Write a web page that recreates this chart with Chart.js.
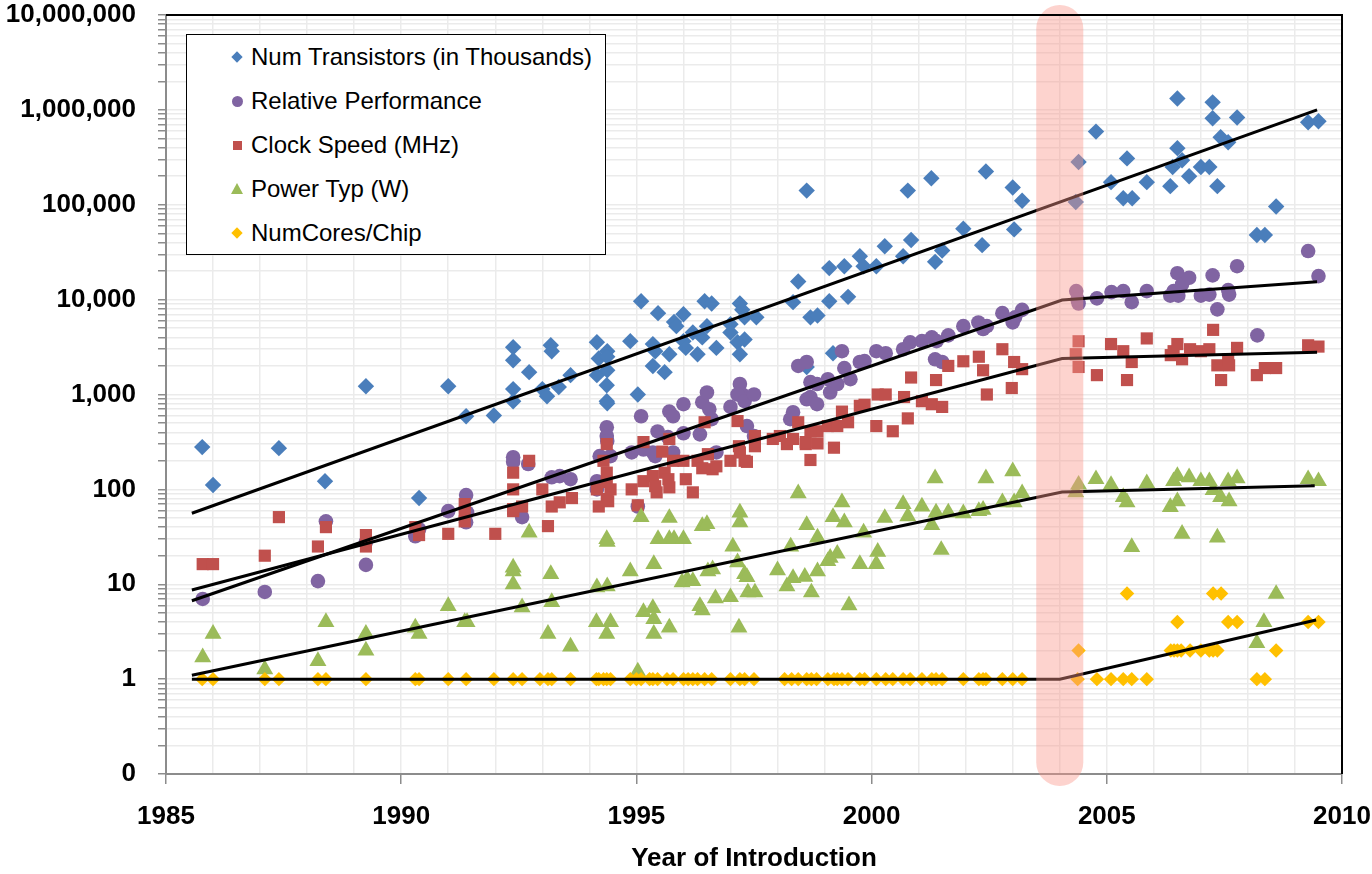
<!DOCTYPE html>
<html>
<head>
<meta charset="utf-8">
<script src="https://cdn.jsdelivr.net/npm/chart.js@4.4.0/dist/chart.umd.min.js"></script>
<style>
html,body{margin:0;padding:0;background:#fff;}
#wrap{position:relative;width:1372px;height:874px;}
canvas{display:block;}
#legend{position:absolute;left:186px;top:34px;width:420px;height:221px;border:1.5px solid #000;background:#fff;box-sizing:border-box;font-family:'Liberation Sans',Arial,sans-serif;font-size:24px;color:#000;}
.item{position:absolute;left:0;height:30px;line-height:30px;white-space:nowrap;}
.mk{position:absolute;top:15px;}
.txt{position:absolute;left:64px;top:0;}
</style>
</head>
<body>
<div id="wrap"><canvas id="c" width="1372" height="874"></canvas><div id="legend"></div></div>
<script>
// ---------------- DATA ----------------
const seriesNames = ['Num Transistors (in Thousands)','Relative Performance','Clock Speed (MHz)','Power Typ (W)','NumCores/Chip'];

const xTickLabels = [1985,1990,1995,2000,2005,2010];
const yTickValues = [0.1,1,10,100,1000,10000,100000,1000000,10000000];
const yTickLabels = ['0','1','10','100','1,000','10,000','100,000','1,000,000','10,000,000'];

const transYears = [1985.77,1986.0,1987.4,1988.38,1989.25,1990.38,1991.0,1991.38,1991.97,1992.38,1992.38,1992.38,1992.38,1992.72,1993.0,1993.1,1993.18,1993.2,1993.35,1993.6,1994.16,1994.16,1994.2,1994.38,1994.38,1994.38,1994.37,1994.37,1994.38,1995.03,1994.87,1995.1,1995.46,1995.35,1995.4,1995.35,1995.6,1995.7,1995.8,1995.85,1996.0,1996.0,1996.05,1996.2,1996.3,1996.4,1996.5,1996.45,1996.6,1996.7,1997.0,1997.0,1997.2,1997.25,1997.3,1997.15,1997.2,1997.3,1997.55,1998.62,1998.33,1998.44,1998.7,1998.85,1999.1,1999.1,1999.42,1999.5,1999.75,1999.83,2000.1,2000.28,2000.67,2000.84,2000.77,2001.27,2001.35,2001.5,2001.95,2002.35,2002.43,2003.0,2003.2,2003.03,2004.4,2004.34,2004.77,2005.09,2005.35,2005.43,2005.54,2005.85,2006.35,2006.4,2006.5,2006.5,2006.6,2006.75,2007.0,2007.18,2007.25,2007.25,2007.35,2007.42,2007.58,2007.77,2008.19,2008.36,2008.6,2009.28,2009.5,1998.62,1999.18];
const transValues = [279,111,272,122,1220,81,1220,590,600,3150,2300,1140,850,1720,1140,960,3300,2860,1200,1600,3550,1600,2400,2860,2500,1800,1250,850,810,1000,3650,9600,7200,3400,2860,2000,1720,2660,5800,5250,7000,3650,3100,4500,2660,4000,5250,9600,9100,3100,5500,4500,9100,7800,3800,3550,2660,6500,6500,141000,9400,15500,6500,6800,21500,9600,22500,10700,28700,22500,22500,36500,28700,42500,141000,190000,25000,33000,56000,37500,224000,152000,110000,55000,282000,107000,590000,173000,117000,308000,117000,173000,157000,250000,395000,1320000,295000,200000,250000,250000,1200000,815000,157000,515000,455000,830000,48000,48000,96000,740000,760000,1950,2720];

const perfYears = [1985.78,1987.1,1988.23,1988.4,1989.25,1989.25,1990.3,1990.38,1991.0,1991.38,1991.38,1991.4,1992.57,1992.38,1992.38,1992.7,1993.2,1993.37,1993.6,1994.16,1994.16,1994.22,1994.37,1994.37,1994.38,1994.45,1995.03,1994.9,1995.1,1995.15,1995.35,1995.4,1995.45,1995.67,1995.7,1995.78,1995.78,1996.0,1996.0,1996.35,1996.4,1996.5,1996.55,1996.6,1996.7,1997.0,1997.2,1997.25,1997.15,1997.3,1997.35,1997.5,1997.5,1998.27,1998.33,1998.44,1998.62,1998.62,1998.7,1998.84,1998.7,1998.84,1999.07,1999.12,1999.27,1999.37,1999.42,1999.55,1999.75,1999.85,2000.1,2000.3,2000.67,2000.82,2001.07,2001.28,2001.38,2001.35,2001.5,2001.63,2001.95,2002.27,2002.37,2002.45,2002.78,2003.0,2003.05,2003.2,2004.35,2004.4,2004.38,2004.79,2005.1,2005.35,2005.53,2005.85,2006.35,2006.5,2006.42,2006.52,2006.6,2006.75,2007.0,2007.18,2007.25,2007.35,2007.58,2007.6,2007.77,2008.2,2009.28,2009.5];
const perfValues = [7.0,8.3,10.8,46,16,28,32,38,59,87,45,57,51,218,195,185,134,138,128,122,100,224,452,365,324,224,66,245,590,263,245,224,408,355,660,590,245,790,390,380,830,1050,700,550,245,740,1290,1000,1000,850,465,1000,365,550,650,2000,2200,890,940,790,1350,1290,1450,1050,1290,2860,1900,1450,2200,2250,2860,2720,3000,3550,3650,4000,3650,2350,2200,4200,5250,5750,4900,5250,7200,5750,6500,7800,12300,9100,10000,10300,12000,12300,9400,12300,11000,19000,12300,11000,14500,17000,11000,11300,18000,7900,12600,11300,22500,4200,32500,17700];

const clockYears = [1985.78,1986.0,1987.1,1987.4,1988.23,1988.4,1989.25,1989.25,1990.3,1990.38,1991.0,1991.35,1991.35,1991.35,1992.0,1992.38,1992.38,1992.57,1992.38,1992.38,1992.72,1993.0,1993.12,1993.2,1993.37,1993.63,1994.2,1994.16,1994.3,1994.37,1994.37,1994.37,1994.45,1994.37,1994.4,1994.9,1995.03,1995.15,1995.15,1995.35,1995.4,1995.43,1995.55,1995.6,1995.7,1995.68,1995.7,1995.78,1996.0,1996.05,1996.2,1996.3,1996.4,1996.45,1996.52,1996.62,1996.7,1997.0,1997.15,1997.18,1997.2,1997.3,1997.35,1997.52,1997.52,1997.9,1998.05,1998.2,1998.33,1998.44,1998.6,1998.7,1998.6,1998.85,1998.85,1998.7,1999.07,1999.2,1999.27,1999.37,1999.5,1999.75,1999.85,2000.1,2000.13,2000.3,2000.45,2000.69,2000.77,2000.84,2001.07,2001.28,2001.37,2001.5,2001.63,2001.95,2002.28,2002.37,2002.45,2002.78,2002.98,2003.03,2003.2,2004.4,2004.34,2004.4,2004.79,2005.09,2005.35,2005.43,2005.53,2005.85,2006.36,2006.42,2006.5,2006.6,2006.77,2007.0,2007.18,2007.26,2007.35,2007.43,2007.58,2007.6,2007.77,2008.19,2008.36,2008.6,2009.28,2009.5];
const clockValues = [16.3,16.3,20,51,25,40,33,25,40,33,34,70,57,46,34,100,59,66,150,62,200,100,41,66,73,81,66,100,200,300,150,119,100,79,75,100,68,315,122,138,108,93,250,150,340,128,105,200,200,128,93,200,167,510,235,163,175,200,525,285,245,200,195,365,285,340,365,300,340,510,300,204,315,305,410,410,465,275,465,660,510,760,780,465,1000,1000,410,940,560,1510,850,790,1420,740,2000,2240,2500,1800,1000,3000,1170,2200,1850,3640,2660,1950,1600,3400,2860,1420,2200,3900,2600,2860,3400,2350,3000,2860,3000,4800,2030,1420,2350,2030,3100,1600,1900,1900,3300,3200];

const powerYears = [1985.78,1986.0,1987.1,1988.23,1988.4,1989.25,1989.25,1990.3,1990.38,1991.0,1991.35,1991.4,1992.38,1992.38,1992.38,1992.57,1992.72,1993.12,1993.18,1993.2,1993.6,1994.15,1994.16,1994.37,1994.38,1994.45,1994.37,1994.38,1995.03,1995.1,1994.87,1995.15,1995.37,1995.35,1995.37,1995.37,1995.7,1995.7,1995.46,1995.7,1995.8,1996.0,1995.97,1996.08,1996.2,1996.4,1996.5,1996.35,1996.4,1996.52,1996.62,1996.68,1997.0,1997.05,1997.2,1997.2,1997.18,1997.15,1997.3,1997.35,1997.37,1997.52,1998.0,1998.2,1998.33,1998.28,1998.44,1998.62,1998.58,1998.72,1998.85,1998.85,1999.07,1999.12,1999.27,1999.18,1999.37,1999.42,1999.52,1999.75,1999.83,2000.1,2000.13,2000.28,2000.67,2000.77,2001.07,2001.28,2001.35,2001.37,2001.48,2001.63,2001.95,2002.28,2002.37,2002.43,2002.78,2003.0,2003.03,2003.2,2004.4,2004.34,2004.77,2005.09,2005.35,2005.43,2005.53,2005.85,2006.35,2006.5,2006.5,2006.42,2006.6,2006.75,2007.0,2007.18,2007.26,2007.42,2007.35,2007.58,2007.6,2007.77,2008.19,2008.34,2008.6,2009.28,2009.5];
const powerValues = [1.7,3.0,1.27,1.55,4.0,3.0,2.0,3.5,3.0,5.9,4.0,4.0,15,13.7,10,5.7,35,3.0,12.8,6.5,2.2,4.0,9.3,30,28,4.0,3.0,9.5,1.2,51,13.7,5.1,16.3,5.6,4.3,3.0,50,3.5,30,30,30,30,10.5,11.3,10.8,41,43,5.9,5.3,13.7,14.4,7.1,7.3,25,57,45,3.5,17,12.8,11.9,8.2,8.2,14,9.5,11.6,25,91,42,12,8.2,31,13.7,17.5,19,21,51,73,45,6.0,16.3,35,16.3,22,50,70,52,66,42,131,57,23,57,56,59,61,131,73,155,73,91,112,93,128,111,83,73,24.6,116,65,75,138,122,34,134,122,122,98,83,31,122,75,131,2.4,4.0,7.9,128,122];

const coresYears = [1985.77,1986.0,1987.1,1987.4,1988.23,1988.4,1989.25,1990.3,1990.38,1991.0,1991.38,1991.97,1992.38,1992.57,1992.95,1993.12,1993.2,1993.6,1994.15,1994.2,1994.3,1994.37,1994.45,1994.87,1995.0,1995.1,1995.28,1995.35,1995.45,1995.65,1995.78,1996.0,1996.1,1996.2,1996.3,1996.45,1996.6,1997.0,1997.2,1997.3,1997.5,1998.15,1998.3,1998.44,1998.62,1998.72,1998.83,1999.07,1999.2,1999.27,1999.37,1999.5,1999.75,1999.85,2000.1,2000.3,2000.45,2000.67,2000.82,2001.07,2001.28,2001.37,2001.5,2001.95,2002.28,2002.37,2002.43,2002.78,2003.0,2003.2,2004.38,2004.79,2005.09,2005.35,2005.53,2005.85,2008.19,2008.36,2004.4,2006.36,2006.43,2006.5,2006.58,2006.77,2007.0,2007.18,2007.26,2007.35,2008.6,2006.5,2007.58,2007.77,2009.28,2009.5,2005.43,2007.26,2007.43];
const coresValues = [1,1,1,1,1,1,1,1,1,1,1,1,1,1,1,1,1,1,1,1,1,1,1,1,1,1,1,1,1,1,1,1,1,1,1,1,1,1,1,1,1,1,1,1,1,1,1,1,1,1,1,1,1,1,1,1,1,1,1,1,1,1,1,1,1,1,1,1,1,1,1,1,1,1,1,1,1,1,2,2,2,2,2,2,2,2,2,2,2,4,4,4,4,4,8,8,8];

// trend lines
const transTrendYears = [1985.55, 2009.47];
const transTrendValues = [56, 1000000];
const perfTrendYears = [1985.55, 2004.05, 2009.47];
const perfTrendValues = [6.7, 9900, 15400];
const clockTrendYears = [1985.55, 2004.05, 2009.47];
const clockTrendValues = [8.7, 2400, 2790];
const powerTrendYears = [1985.55, 2004.05, 2009.42];
const powerTrendValues = [1.1, 94, 109];
const coresTrendYears = [1985.55, 2004.0, 2009.45];
const coresTrendValues = [1, 1, 4.2];

// highlighted band (years)
const bandStart = 2003.5, bandEnd = 2004.5;

// ---------------- STYLE ----------------
const colors = ['#4A7EBB','#8064A2','#C0504D','#9BBB59','#FFC000'];
const shapes = ['rectRot','circle','rect','triangle','rectRot'];
const radii = [8.2, 7.3, 8.6, 9.8, 7.2];
const fontFamily = "'Liberation Sans', Arial, sans-serif";
const axisFont = {family:fontFamily, size:26, weight:'bold'};

function pts(xs, ys){ return xs.map((x,i)=>({x:x, y:ys[i]})); }

const pointSets = [
  [transYears, transValues],[perfYears, perfValues],[clockYears, clockValues],[powerYears, powerValues],[coresYears, coresValues]
];
const trendSets = [
  [transTrendYears, transTrendValues],[perfTrendYears, perfTrendValues],[clockTrendYears, clockTrendValues],[powerTrendYears, powerTrendValues],[coresTrendYears, coresTrendValues]
];

const datasets = [];
pointSets.forEach((s,i)=>{
  datasets.push({
    label: seriesNames[i], data: pts(s[0], s[1]), showLine:false,
    pointStyle: shapes[i], pointRadius: radii[i], pointBorderWidth:0,
    backgroundColor: colors[i], borderColor: colors[i], order: 5 - i + 1
  });
});
trendSets.forEach((s,i)=>{
  datasets.push({
    label: 'trend'+i, data: pts(s[0], s[1]), showLine:true, pointRadius:0,
    borderColor:'#000', borderWidth:3, backgroundColor:'#000', order:0, tension:0
  });
});

const bandPlugin = {
  id:'band',
  afterDatasetsDraw(chart){
    const {ctx, chartArea, scales:{x}} = chart;
    const x0 = x.getPixelForValue(bandStart), x1 = x.getPixelForValue(bandEnd);
    const top = chartArea.top - 10, bottom = chartArea.bottom + 12;
    ctx.save();
    ctx.fillStyle = 'rgba(250,150,138,0.42)';
    ctx.beginPath();
    ctx.roundRect(x0, top, x1 - x0, bottom - top, (x1 - x0) / 2);
    ctx.fill();
    ctx.restore();
  },
  afterDraw(chart){
    const {ctx, chartArea} = chart;
    ctx.save();
    ctx.strokeStyle = '#000';
    ctx.lineWidth = 2;
    ctx.beginPath();
    ctx.moveTo(chartArea.left, chartArea.top);
    ctx.lineTo(chartArea.right, chartArea.top);
    ctx.lineTo(chartArea.right, chartArea.bottom);
    ctx.stroke();
    ctx.restore();
  }
};

function isDecade(v){ const l = Math.log10(v); return Math.abs(l - Math.round(l)) < 1e-9; }

new Chart(document.getElementById('c'), {
  type:'scatter',
  data:{datasets},
  plugins:[bandPlugin],
  options:{
    responsive:false, animation:false, events:[],
    layout:{padding:{top:15, right:30, left:0, bottom:0}},
    plugins:{legend:{display:false}, tooltip:{enabled:false}},
    scales:{
      x:{
        type:'linear', min:1985, max:2010,
        ticks:{stepSize:1, autoSkip:false, maxRotation:0, minRotation:0, color:'#000', font:axisFont, padding:17,
          callback:(v)=> xTickLabels.includes(v) ? String(v) : ''},
        grid:{color:'#ebebeb', lineWidth:1.5, tickLength:10,
          tickColor:(c)=> (c.tick && xTickLabels.includes(c.tick.value)) ? '#8c8c8c' : 'rgba(0,0,0,0)'},
        border:{color:'#8c8c8c', width:2},
        title:{display:true, text:'Year of Introduction', color:'#000', font:{family:fontFamily, size:26, weight:'bold'}, padding:{top:0,bottom:0}},
        afterFit(a){ a.height = 100; a.paddingLeft = 0; a.paddingRight = 0; }
      },
      y:{
        type:'logarithmic', min:0.1, max:10000000,
        afterBuildTicks(a){
          const t = [];
          for (let e = -1; e < 7; e++) for (let m = 1; m < 10; m++) t.push({value: Number((m * Math.pow(10, e)).toPrecision(6))});
          t.push({value: yTickValues[yTickValues.length-1]});
          a.ticks = t;
        },
        ticks:{autoSkip:false, color:'#000', font:axisFont, padding:22,
          callback:(v)=> { if(!isDecade(v)) return ''; const i = yTickValues.findIndex(t => Math.abs(Math.log10(t) - Math.log10(v)) < 1e-9); return i >= 0 ? yTickLabels[i] : ''; }},
        grid:{color:'#ebebeb', lineWidth:1.5, tickLength:8, tickColor:'#8c8c8c'},
        border:{color:'#8c8c8c', width:2},
        afterFit(a){ a.width = 166; a.paddingTop = 0; a.paddingBottom = 0; }
      }
    }
  }
});

// ---------------- LEGEND (HTML) ----------------
const lg = document.getElementById('legend');
const markerCss = [
  (c)=>`left:46px;margin-top:-4px;width:8px;height:8px;background:${c};transform:rotate(45deg);`,
  (c)=>`left:45px;margin-top:-5.5px;width:11px;height:11px;border-radius:50%;background:${c};`,
  (c)=>`left:46px;margin-top:-4.5px;width:9px;height:9px;background:${c};`,
  (c)=>`left:44px;margin-top:-6px;width:0;height:0;border-left:6px solid transparent;border-right:6px solid transparent;border-bottom:11px solid ${c};`,
  (c)=>`left:46px;margin-top:-4px;width:8px;height:8px;background:${c};transform:rotate(45deg);`
];
seriesNames.forEach((n,i)=>{
  const it = document.createElement('div');
  it.className = 'item';
  it.style.top = (7 + i*44) + 'px';
  it.innerHTML = `<span class="mk" style="${markerCss[i](colors[i])}"></span><span class="txt">${n}</span>`;
  lg.appendChild(it);
});
</script>
</body>
</html>
